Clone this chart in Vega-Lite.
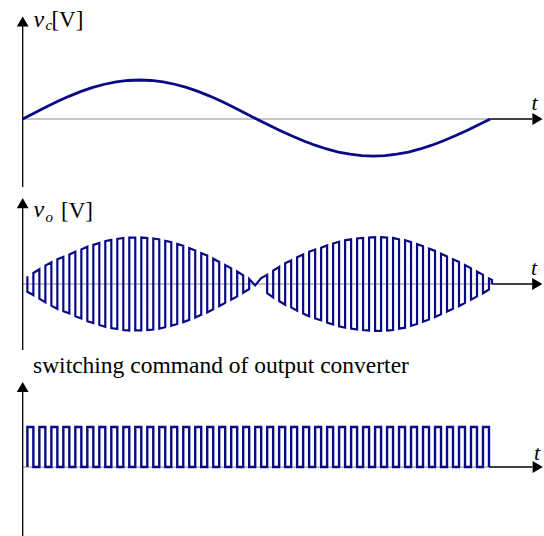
{
"$schema": "https://vega.github.io/schema/vega-lite/v6.json",
"padding": 0,
"spacing": 0,
"bounds": "flush",
"background": "white",
"config": {"view": {"stroke": null}, "axis": {"disable": true}},
"datasets": {
"vc": [
{"t":0,"v":0},{"t":0.5,"v":0.1564},{"t":1,"v":0.309},{"t":1.5,"v":0.454},{"t":2,"v":0.5878},{"t":2.5,"v":0.7071},{"t":3,"v":0.809},{"t":3.5,"v":0.891},{"t":4,"v":0.9511},{"t":4.5,"v":0.9877},{"t":5,"v":1},{"t":5.5,"v":0.9877},{"t":6,"v":0.9511},{"t":6.5,"v":0.891},{"t":7,"v":0.809},{"t":7.5,"v":0.7071},{"t":8,"v":0.5878},{"t":8.5,"v":0.454},{"t":9,"v":0.309},{"t":9.5,"v":0.1564},{"t":10,"v":0},{"t":10.5,"v":-0.1486},{"t":11,"v":-0.2936},{"t":11.5,"v":-0.4313},{"t":12,"v":-0.5584},{"t":12.5,"v":-0.6717},{"t":13,"v":-0.7686},{"t":13.5,"v":-0.8465},{"t":14,"v":-0.9035},{"t":14.5,"v":-0.9383},{"t":15,"v":-0.95},{"t":15.5,"v":-0.9383},{"t":16,"v":-0.9035},{"t":16.5,"v":-0.8465},{"t":17,"v":-0.7686},{"t":17.5,"v":-0.6717},{"t":18,"v":-0.5584},{"t":18.5,"v":-0.4313},{"t":19,"v":-0.2936},{"t":19.5,"v":-0.1486},{"t":20,"v":0}
],
"vo": [
{"i":0,"t":0.2,"v":0.17},{"i":1,"t":0.2,"v":-0.17},{"i":2,"t":0.456,"v":-0.24},{"i":3,"t":0.456,"v":0.24},{"i":4,"t":0.713,"v":0.32},{"i":5,"t":0.713,"v":-0.32},{"i":6,"t":0.969,"v":-0.4},{"i":7,"t":0.969,"v":0.4},{"i":8,"t":1.226,"v":0.47},{"i":9,"t":1.226,"v":-0.47},{"i":10,"t":1.482,"v":-0.54},{"i":11,"t":1.482,"v":0.54},{"i":12,"t":1.738,"v":0.59},{"i":13,"t":1.738,"v":-0.59},{"i":14,"t":1.995,"v":-0.64},{"i":15,"t":1.995,"v":0.64},{"i":16,"t":2.251,"v":0.7},{"i":17,"t":2.251,"v":-0.7},{"i":18,"t":2.508,"v":-0.75},{"i":19,"t":2.508,"v":0.75},{"i":20,"t":2.764,"v":0.81},{"i":21,"t":2.764,"v":-0.81},{"i":22,"t":3.021,"v":-0.85},{"i":23,"t":3.021,"v":0.85},{"i":24,"t":3.277,"v":0.89},{"i":25,"t":3.277,"v":-0.89},{"i":26,"t":3.533,"v":-0.93},{"i":27,"t":3.533,"v":0.93},{"i":28,"t":3.79,"v":0.96},{"i":29,"t":3.79,"v":-0.96},{"i":30,"t":4.046,"v":-0.98},{"i":31,"t":4.046,"v":0.98},{"i":32,"t":4.303,"v":1.0},{"i":33,"t":4.303,"v":-1.0},{"i":34,"t":4.559,"v":-1.01},{"i":35,"t":4.559,"v":1.01},{"i":36,"t":4.815,"v":1.01},{"i":37,"t":4.815,"v":-1.01},{"i":38,"t":5.072,"v":-1.01},{"i":39,"t":5.072,"v":1.01},{"i":40,"t":5.328,"v":1.0},{"i":41,"t":5.328,"v":-1.0},{"i":42,"t":5.585,"v":-0.99},{"i":43,"t":5.585,"v":0.99},{"i":44,"t":5.841,"v":0.97},{"i":45,"t":5.841,"v":-0.97},{"i":46,"t":6.097,"v":-0.94},{"i":47,"t":6.097,"v":0.94},{"i":48,"t":6.354,"v":0.91},{"i":49,"t":6.354,"v":-0.91},{"i":50,"t":6.61,"v":-0.87},{"i":51,"t":6.61,"v":0.87},{"i":52,"t":6.867,"v":0.83},{"i":53,"t":6.867,"v":-0.83},{"i":54,"t":7.123,"v":-0.78},{"i":55,"t":7.123,"v":0.78},{"i":56,"t":7.379,"v":0.73},{"i":57,"t":7.379,"v":-0.73},{"i":58,"t":7.636,"v":-0.67},{"i":59,"t":7.636,"v":0.67},{"i":60,"t":7.892,"v":0.62},{"i":61,"t":7.892,"v":-0.62},{"i":62,"t":8.149,"v":-0.55},{"i":63,"t":8.149,"v":0.55},{"i":64,"t":8.405,"v":0.48},{"i":65,"t":8.405,"v":-0.48},{"i":66,"t":8.662,"v":-0.41},{"i":67,"t":8.662,"v":0.41},{"i":68,"t":8.918,"v":0.34},{"i":69,"t":8.918,"v":-0.34},{"i":70,"t":9.174,"v":-0.27},{"i":71,"t":9.174,"v":0.27},{"i":72,"t":9.431,"v":0.19},{"i":73,"t":9.431,"v":-0.19},{"i":74,"t":9.687,"v":-0.11},{"i":75,"t":9.687,"v":0.11},{"i":76,"t":9.944,"v":-0.03},{"i":77,"t":10.2,"v":0.13},{"i":78,"t":10.456,"v":0.2},{"i":79,"t":10.456,"v":-0.2},{"i":80,"t":10.713,"v":-0.29},{"i":81,"t":10.713,"v":0.29},{"i":82,"t":10.969,"v":0.37},{"i":83,"t":10.969,"v":-0.37},{"i":84,"t":11.226,"v":-0.45},{"i":85,"t":11.226,"v":0.45},{"i":86,"t":11.482,"v":0.51},{"i":87,"t":11.482,"v":-0.51},{"i":88,"t":11.738,"v":-0.58},{"i":89,"t":11.738,"v":0.58},{"i":90,"t":11.995,"v":0.64},{"i":91,"t":11.995,"v":-0.64},{"i":92,"t":12.251,"v":-0.7},{"i":93,"t":12.251,"v":0.7},{"i":94,"t":12.508,"v":0.75},{"i":95,"t":12.508,"v":-0.75},{"i":96,"t":12.764,"v":-0.79},{"i":97,"t":12.764,"v":0.79},{"i":98,"t":13.021,"v":0.84},{"i":99,"t":13.021,"v":-0.84},{"i":100,"t":13.277,"v":-0.88},{"i":101,"t":13.277,"v":0.88},{"i":102,"t":13.533,"v":0.92},{"i":103,"t":13.533,"v":-0.92},{"i":104,"t":13.79,"v":-0.95},{"i":105,"t":13.79,"v":0.95},{"i":106,"t":14.046,"v":0.97},{"i":107,"t":14.046,"v":-0.97},{"i":108,"t":14.303,"v":-0.99},{"i":109,"t":14.303,"v":0.99},{"i":110,"t":14.559,"v":1.0},{"i":111,"t":14.559,"v":-1.0},{"i":112,"t":14.815,"v":-1.01},{"i":113,"t":14.815,"v":1.01},{"i":114,"t":15.072,"v":1.02},{"i":115,"t":15.072,"v":-1.02},{"i":116,"t":15.328,"v":-1.02},{"i":117,"t":15.328,"v":1.02},{"i":118,"t":15.585,"v":1.01},{"i":119,"t":15.585,"v":-1.01},{"i":120,"t":15.841,"v":-1.0},{"i":121,"t":15.841,"v":1.0},{"i":122,"t":16.097,"v":0.97},{"i":123,"t":16.097,"v":-0.97},{"i":124,"t":16.354,"v":-0.95},{"i":125,"t":16.354,"v":0.95},{"i":126,"t":16.61,"v":0.91},{"i":127,"t":16.61,"v":-0.91},{"i":128,"t":16.867,"v":-0.87},{"i":129,"t":16.867,"v":0.87},{"i":130,"t":17.123,"v":0.82},{"i":131,"t":17.123,"v":-0.82},{"i":132,"t":17.379,"v":-0.77},{"i":133,"t":17.379,"v":0.77},{"i":134,"t":17.636,"v":0.72},{"i":135,"t":17.636,"v":-0.72},{"i":136,"t":17.892,"v":-0.66},{"i":137,"t":17.892,"v":0.66},{"i":138,"t":18.149,"v":0.6},{"i":139,"t":18.149,"v":-0.6},{"i":140,"t":18.405,"v":-0.54},{"i":141,"t":18.405,"v":0.54},{"i":142,"t":18.662,"v":0.48},{"i":143,"t":18.662,"v":-0.48},{"i":144,"t":18.918,"v":-0.41},{"i":145,"t":18.918,"v":0.41},{"i":146,"t":19.174,"v":0.34},{"i":147,"t":19.174,"v":-0.34},{"i":148,"t":19.431,"v":-0.27},{"i":149,"t":19.431,"v":0.27},{"i":150,"t":19.687,"v":0.2},{"i":151,"t":19.687,"v":-0.2},{"i":152,"t":19.944,"v":-0.12},{"i":153,"t":19.944,"v":0.12},{"i":154,"t":20.07,"v":0.09},{"i":155,"t":20.07,"v":0}
],
"sw": [
{"i":0,"t":0.2,"s":0},{"i":1,"t":0.2,"s":1},{"i":2,"t":0.456,"s":0},{"i":3,"t":0.713,"s":1},{"i":4,"t":0.969,"s":0},{"i":5,"t":1.226,"s":1},{"i":6,"t":1.482,"s":0},{"i":7,"t":1.738,"s":1},{"i":8,"t":1.995,"s":0},{"i":9,"t":2.251,"s":1},{"i":10,"t":2.508,"s":0},{"i":11,"t":2.764,"s":1},{"i":12,"t":3.021,"s":0},{"i":13,"t":3.277,"s":1},{"i":14,"t":3.533,"s":0},{"i":15,"t":3.79,"s":1},{"i":16,"t":4.046,"s":0},{"i":17,"t":4.303,"s":1},{"i":18,"t":4.559,"s":0},{"i":19,"t":4.815,"s":1},{"i":20,"t":5.072,"s":0},{"i":21,"t":5.328,"s":1},{"i":22,"t":5.585,"s":0},{"i":23,"t":5.841,"s":1},{"i":24,"t":6.097,"s":0},{"i":25,"t":6.354,"s":1},{"i":26,"t":6.61,"s":0},{"i":27,"t":6.867,"s":1},{"i":28,"t":7.123,"s":0},{"i":29,"t":7.379,"s":1},{"i":30,"t":7.636,"s":0},{"i":31,"t":7.892,"s":1},{"i":32,"t":8.149,"s":0},{"i":33,"t":8.405,"s":1},{"i":34,"t":8.662,"s":0},{"i":35,"t":8.918,"s":1},{"i":36,"t":9.174,"s":0},{"i":37,"t":9.431,"s":1},{"i":38,"t":9.687,"s":0},{"i":39,"t":9.944,"s":1},{"i":40,"t":10.2,"s":0},{"i":41,"t":10.456,"s":1},{"i":42,"t":10.713,"s":0},{"i":43,"t":10.969,"s":1},{"i":44,"t":11.226,"s":0},{"i":45,"t":11.482,"s":1},{"i":46,"t":11.738,"s":0},{"i":47,"t":11.995,"s":1},{"i":48,"t":12.251,"s":0},{"i":49,"t":12.508,"s":1},{"i":50,"t":12.764,"s":0},{"i":51,"t":13.021,"s":1},{"i":52,"t":13.277,"s":0},{"i":53,"t":13.533,"s":1},{"i":54,"t":13.79,"s":0},{"i":55,"t":14.046,"s":1},{"i":56,"t":14.303,"s":0},{"i":57,"t":14.559,"s":1},{"i":58,"t":14.815,"s":0},{"i":59,"t":15.072,"s":1},{"i":60,"t":15.328,"s":0},{"i":61,"t":15.585,"s":1},{"i":62,"t":15.841,"s":0},{"i":63,"t":16.097,"s":1},{"i":64,"t":16.354,"s":0},{"i":65,"t":16.61,"s":1},{"i":66,"t":16.867,"s":0},{"i":67,"t":17.123,"s":1},{"i":68,"t":17.379,"s":0},{"i":69,"t":17.636,"s":1},{"i":70,"t":17.892,"s":0},{"i":71,"t":18.149,"s":1},{"i":72,"t":18.405,"s":0},{"i":73,"t":18.662,"s":1},{"i":74,"t":18.918,"s":0},{"i":75,"t":19.174,"s":1},{"i":76,"t":19.431,"s":0},{"i":77,"t":19.687,"s":1},{"i":78,"t":19.944,"s":0}
]
},
"vconcat": [
{
"width": 544, "height": 190,
"layer": [
{"data": {"values": [{}]}, "mark": {"type": "rule", "color": "#8c8c8c", "strokeWidth": 1.2},
 "encoding": {"x": {"datum": 0, "type": "quantitative", "scale": {"domain": [-0.971, 22.297], "nice": false, "zero": false}, "axis": null}, "x2": {"datum": 20}, "y": {"datum": 0, "type": "quantitative", "scale": {"domain": [-1.8205, 3.0513], "nice": false, "zero": false}, "axis": null}}},
{"data": {"values": [{}]}, "mark": {"type": "rule", "color": "black", "strokeWidth": 1.5},
 "encoding": {"x": {"datum": 20}, "x2": {"datum": 21.8}, "y": {"datum": 0}}},
{"data": {"values": [{}]}, "mark": {"type": "rule", "color": "black", "strokeWidth": 1.3},
 "encoding": {"x": {"datum": 0}, "y": {"datum": 2.54}, "y2": {"datum": -1.744}}},
{"data": {"values": [{}]}, "mark": {"type": "point", "shape": "triangle-right", "filled": true, "opacity": 1, "color": "black", "size": 140},
 "encoding": {"x": {"datum": 22.02}, "y": {"datum": 0}}},
{"data": {"values": [{}]}, "mark": {"type": "point", "shape": "triangle-up", "filled": true, "opacity": 1, "color": "black", "size": 140},
 "encoding": {"x": {"datum": 0}, "y": {"datum": 2.5}}},
{"data": {"name": "vc"}, "mark": {"type": "line", "color": "#0a0a86", "strokeWidth": 2.8},
 "encoding": {"x": {"field": "t", "type": "quantitative"}, "y": {"field": "v", "type": "quantitative"}}},
{"data": {"values": [{}]}, "mark": {"type": "text", "text": "v", "font": "Liberation Serif", "fontStyle": "italic", "fontSize": 24, "align": "left", "baseline": "alphabetic", "color": "black"},
 "encoding": {"x": {"datum": 0.46}, "y": {"datum": 2.36}}},
{"data": {"values": [{}]}, "mark": {"type": "text", "text": "c", "font": "Liberation Serif", "fontStyle": "italic", "fontSize": 15, "align": "left", "baseline": "alphabetic", "color": "black"},
 "encoding": {"x": {"datum": 0.975}, "y": {"datum": 2.27}}},
{"data": {"values": [{}]}, "mark": {"type": "text", "text": "[V]", "font": "Liberation Serif", "fontSize": 23, "align": "left", "baseline": "alphabetic", "color": "black"},
 "encoding": {"x": {"datum": 1.23}, "y": {"datum": 2.36}}},
{"data": {"values": [{}]}, "mark": {"type": "text", "text": "t", "font": "Liberation Serif", "fontStyle": "italic", "fontSize": 22, "align": "center", "baseline": "alphabetic", "color": "black"},
 "encoding": {"x": {"datum": 21.89}, "y": {"datum": 0.23}}}
]
},
{
"width": 544, "height": 160,
"layer": [
{"data": {"values": [{}]}, "mark": {"type": "rule", "color": "#8c8c8c", "strokeWidth": 1.2},
 "encoding": {"x": {"datum": 0, "type": "quantitative", "scale": {"domain": [-0.971, 22.297], "nice": false, "zero": false}, "axis": null}, "x2": {"datum": 20.07}, "y": {"datum": 0, "type": "quantitative", "scale": {"domain": [-1.4348, 2.0435], "nice": false, "zero": false}, "axis": null}}},
{"data": {"values": [{}]}, "mark": {"type": "rule", "color": "black", "strokeWidth": 1.5},
 "encoding": {"x": {"datum": 20.07}, "x2": {"datum": 21.8}, "y": {"datum": 0}}},
{"data": {"values": [{}]}, "mark": {"type": "rule", "color": "black", "strokeWidth": 1.3},
 "encoding": {"x": {"datum": 0}, "y": {"datum": 1.72}, "y2": {"datum": -1.4348}}},
{"data": {"values": [{}]}, "mark": {"type": "point", "shape": "triangle-right", "filled": true, "opacity": 1, "color": "black", "size": 140},
 "encoding": {"x": {"datum": 22.01}, "y": {"datum": 0}}},
{"data": {"values": [{}]}, "mark": {"type": "point", "shape": "triangle-up", "filled": true, "opacity": 1, "color": "black", "size": 140},
 "encoding": {"x": {"datum": 0}, "y": {"datum": 1.76}}},
{"data": {"name": "vo"}, "mark": {"type": "line", "color": "#0a0a86", "strokeWidth": 2.2},
 "encoding": {"x": {"field": "t", "type": "quantitative"}, "y": {"field": "v", "type": "quantitative"}, "order": {"field": "i", "type": "quantitative"}}},
{"data": {"values": [{}]}, "mark": {"type": "text", "text": "v", "font": "Liberation Serif", "fontStyle": "italic", "fontSize": 24, "align": "left", "baseline": "alphabetic", "color": "black"},
 "encoding": {"x": {"datum": 0.46}, "y": {"datum": 1.463}}},
{"data": {"values": [{}]}, "mark": {"type": "text", "text": "o", "font": "Liberation Serif", "fontStyle": "italic", "fontSize": 15, "align": "left", "baseline": "alphabetic", "color": "black"},
 "encoding": {"x": {"datum": 0.975}, "y": {"datum": 1.354}}},
{"data": {"values": [{}]}, "mark": {"type": "text", "text": "[V]", "font": "Liberation Serif", "fontSize": 23, "align": "left", "baseline": "alphabetic", "color": "black"},
 "encoding": {"x": {"datum": 1.638}, "y": {"datum": 1.43}}},
{"data": {"values": [{}]}, "mark": {"type": "text", "text": "t", "font": "Liberation Serif", "fontStyle": "italic", "fontSize": 22, "align": "center", "baseline": "alphabetic", "color": "black"},
 "encoding": {"x": {"datum": 21.87}, "y": {"datum": 0.196}}}
]
},
{
"width": 544, "height": 186,
"layer": [
{"data": {"values": [{}]}, "mark": {"type": "rule", "color": "#8c8c8c", "strokeWidth": 1.2},
 "encoding": {"x": {"datum": 0, "type": "quantitative", "scale": {"domain": [-0.971, 22.297], "nice": false, "zero": false}, "axis": null}, "x2": {"datum": 19.944}, "y": {"datum": 0, "type": "quantitative", "scale": {"domain": [-1.725, 2.925], "nice": false, "zero": false}, "axis": null}}},
{"data": {"values": [{}]}, "mark": {"type": "rule", "color": "black", "strokeWidth": 1.5},
 "encoding": {"x": {"datum": 19.944}, "x2": {"datum": 21.8}, "y": {"datum": 0}}},
{"data": {"values": [{}]}, "mark": {"type": "rule", "color": "black", "strokeWidth": 1.3},
 "encoding": {"x": {"datum": 0}, "y": {"datum": 1.93}, "y2": {"datum": -1.725}}},
{"data": {"values": [{}]}, "mark": {"type": "point", "shape": "triangle-right", "filled": true, "opacity": 1, "color": "black", "size": 140},
 "encoding": {"x": {"datum": 22.03}, "y": {"datum": 0}}},
{"data": {"values": [{}]}, "mark": {"type": "point", "shape": "triangle-up", "filled": true, "opacity": 1, "color": "black", "size": 140},
 "encoding": {"x": {"datum": 0}, "y": {"datum": 2.0}}},
{"data": {"name": "sw"}, "mark": {"type": "line", "color": "#0a0a86", "strokeWidth": 2.4, "interpolate": "step-after"},
 "encoding": {"x": {"field": "t", "type": "quantitative"}, "y": {"field": "s", "type": "quantitative"}, "order": {"field": "i", "type": "quantitative"}}},
{"data": {"values": [{}]}, "mark": {"type": "text", "text": "switching command of output converter", "font": "Liberation Serif", "fontSize": 23.5, "align": "left", "baseline": "alphabetic", "color": "black"},
 "encoding": {"x": {"datum": 0.44}, "y": {"datum": 2.343}}},
{"data": {"values": [{}]}, "mark": {"type": "text", "text": "t", "font": "Liberation Serif", "fontStyle": "italic", "fontSize": 22, "align": "center", "baseline": "alphabetic", "color": "black"},
 "encoding": {"x": {"datum": 22.0}, "y": {"datum": 0.175}}}
]
}
]
}
